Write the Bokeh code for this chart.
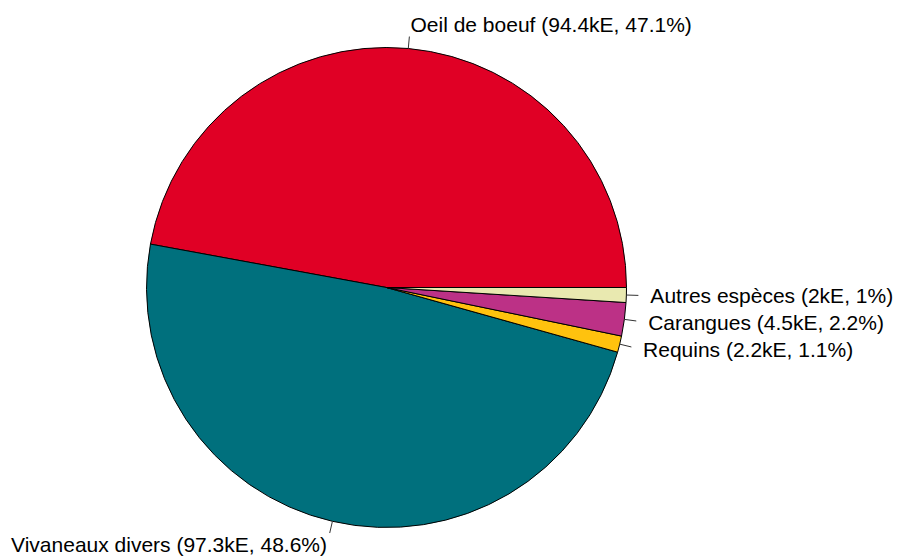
import numpy as np
from bokeh.plotting import figure
from bokeh.models import Range1d, ColumnDataSource
from bokeh.core.properties import value
from bokeh.embed import file_html
from bokeh.resources import INLINE

# Data
species = ["Oeil de boeuf", "Vivaneaux divers", "Requins", "Carangues", "Autres espèces"]
amounts_ke = [94.4, 97.3, 2.2, 4.5, 2.0]
pct_labels = ["47.1%", "48.6%", "1.1%", "2.2%", "1%"]
amount_labels = ["94.4kE", "97.3kE", "2.2kE", "4.5kE", "2kE"]
colors = ["#E00025", "#00707D", "#FFC20E", "#BC3186", "#E9E9B0"]

W, H = 899, 556
p = figure(width=W, height=H, output_backend="svg", toolbar_location=None,
           x_range=Range1d(0, W), y_range=Range1d(0, H), min_border=0)
p.axis.visible = False
p.grid.visible = False
p.outline_line_color = None
p.background_fill_color = "white"
p.border_fill_color = "white"

cx, cy, R = 386, H - 287, 240
vals = np.array(amounts_ke, dtype=float)
frac = vals / vals.sum()
ends = np.cumsum(frac) * 2 * np.pi
starts = np.concatenate([[0.0], ends[:-1]])
mids = (starts + ends) / 2

src = ColumnDataSource(dict(start=starts, end=ends, color=colors))
p.wedge(x=cx, y=cy, radius=R, start_angle="start", end_angle="end",
        fill_color="color", line_color="black", line_width=1, source=src)

# tick lines
x0 = cx + R * np.cos(mids)
y0 = cy + R * np.sin(mids)
x1 = cx + 1.05 * R * np.cos(mids)
y1 = cy + 1.05 * R * np.sin(mids)
p.segment(x0=x0, y0=y0, x1=x1, y1=y1, line_color="#333333", line_width=1)

labels = [f"{s} ({a}, {q})" for s, a, q in zip(species, amount_labels, pct_labels)]
tx = cx + 1.1 * R * np.cos(mids)
ty = cy + 1.1 * R * np.sin(mids)
align = ["left" if c >= 0 else "right" for c in np.cos(mids)]
tsrc = ColumnDataSource(dict(x=tx, y=ty, text=labels, align=align))
p.text(x="x", y="y", text="text", text_align="align", text_baseline="middle",
       text_font=value("Liberation Sans"), text_font_size="21px",
       text_color="black", source=tsrc)

open("out.html", "w").write(file_html(p, INLINE))
